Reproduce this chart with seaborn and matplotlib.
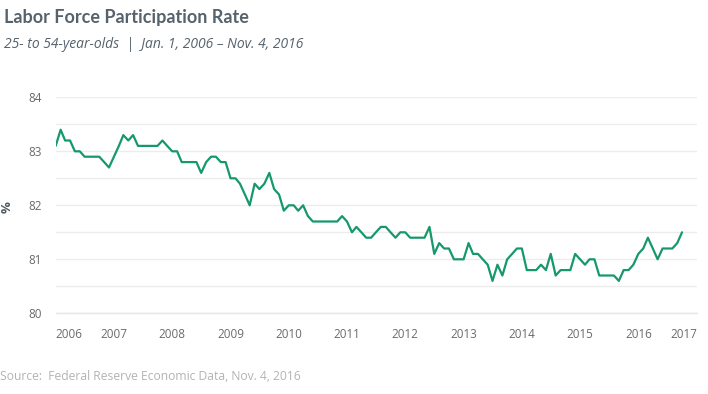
import matplotlib
matplotlib.use("Agg")
import matplotlib.pyplot as plt
import seaborn as sns
import pandas as pd
import numpy as np

# ---- data (monthly, Jan 2006 - Oct 2016) ----
start_month = "2006-01-01"
rate = [
    83.1, 83.4, 83.2, 83.2, 83.0, 83.0, 82.9, 82.9, 82.9, 82.9, 82.8, 82.7,   # 2006
    82.9, 83.1, 83.3, 83.2, 83.3, 83.1, 83.1, 83.1, 83.1, 83.1, 83.2, 83.1,   # 2007
    83.0, 83.0, 82.8, 82.8, 82.8, 82.8, 82.6, 82.8, 82.9, 82.9, 82.8, 82.8,   # 2008
    82.5, 82.5, 82.4, 82.2, 82.0, 82.4, 82.3, 82.4, 82.6, 82.3, 82.2, 81.9,   # 2009
    82.0, 82.0, 81.9, 82.0, 81.8, 81.7, 81.7, 81.7, 81.7, 81.7, 81.7, 81.8,   # 2010
    81.7, 81.5, 81.6, 81.5, 81.4, 81.4, 81.5, 81.6, 81.6, 81.5, 81.4, 81.5,   # 2011
    81.5, 81.4, 81.4, 81.4, 81.4, 81.6, 81.1, 81.3, 81.2, 81.2, 81.0, 81.0,   # 2012
    81.0, 81.3, 81.1, 81.1, 81.0, 80.9, 80.6, 80.9, 80.7, 81.0, 81.1, 81.2,   # 2013
    81.2, 80.8, 80.8, 80.8, 80.9, 80.8, 81.1, 80.7, 80.8, 80.8, 80.8, 81.1,   # 2014
    81.0, 80.9, 81.0, 81.0, 80.7, 80.7, 80.7, 80.7, 80.6, 80.8, 80.8, 80.9,   # 2015
    81.1, 81.2, 81.4, 81.2, 81.0, 81.2, 81.2, 81.2, 81.3, 81.5,               # 2016
]
year_ticks = list(range(2006, 2018))
y_ticks = [80, 81, 82, 83, 84]
title = "Labor Force Participation Rate"
subtitle = "25- to 54-year-olds  |  Jan. 1, 2006 \u2013 Nov. 4, 2016"
source = "Source:  Federal Reserve Economic Data, Nov. 4, 2016"

df = pd.DataFrame({
    "date": pd.date_range(start_month, periods=len(rate), freq="MS"),
    "rate": rate,
})

sns.set_theme(style="white")
plt.rcParams["font.family"] = ["Open Sans", "DejaVu Sans"]

fig = plt.figure(figsize=(7.08, 3.94), dpi=100)
ax = fig.add_axes([55.7 / 708, 1 - 313.3 / 394, (696.7 - 55.7) / 708, (313.3 - 97.3) / 394])

sns.lineplot(data=df, x="date", y="rate", ax=ax, color="#16996a", linewidth=1.6)

ax.set_ylim(80, 84)
ax.set_xlim(pd.Timestamp("2006-01-01"), pd.Timestamp("2017-01-01"))

# grid every 0.5, labels every 1
for v in np.arange(80, 84.01, 0.5):
    ax.axhline(v, color="#ececec", linewidth=1.0, zorder=0)
ax.set_yticks(y_ticks)
ax.set_yticklabels([str(t) for t in y_ticks])
ax.tick_params(axis="y", length=0, pad=10, labelsize=8.4, labelcolor="#6b6b6b")

xt = [pd.Timestamp(f"{y}-01-01") for y in year_ticks]
ax.set_xticks(xt)
ax.set_xticklabels([str(y) for y in year_ticks])
ax.tick_params(axis="x", length=6.5, width=1, color="#e6e6e6", pad=4,
               labelsize=8.4, labelcolor="#6b6b6b")
labels = ax.get_xticklabels()
labels[0].set_ha("left")
labels[-1].set_ha("right")

for s in ["top", "right", "left"]:
    ax.spines[s].set_visible(False)
ax.spines["bottom"].set_color("#e6e6e6")
ax.spines["bottom"].set_linewidth(1.0)

ax.set_xlabel("")
ax.set_ylabel("")
fig.text(7 / 708, 1 - 207 / 394, "%", rotation=90, ha="center", va="center",
         fontsize=9.5, fontweight="bold", color="#4f5a63")

fig.text(4 / 708, 1 - 17 / 394, title, ha="left", va="center",
         fontsize=13, fontweight="bold", color="#56626c", family=["Lato", "DejaVu Sans"])
fig.text(4 / 708, 1 - 45 / 394, subtitle, ha="left", va="center",
         fontsize=10, style="italic", color="#56626c")
fig.text(0 / 708, 1 - 377 / 394, source, ha="left", va="center",
         fontsize=8.7, color="#b3b3b3")

fig.savefig("out.png", dpi=100)
